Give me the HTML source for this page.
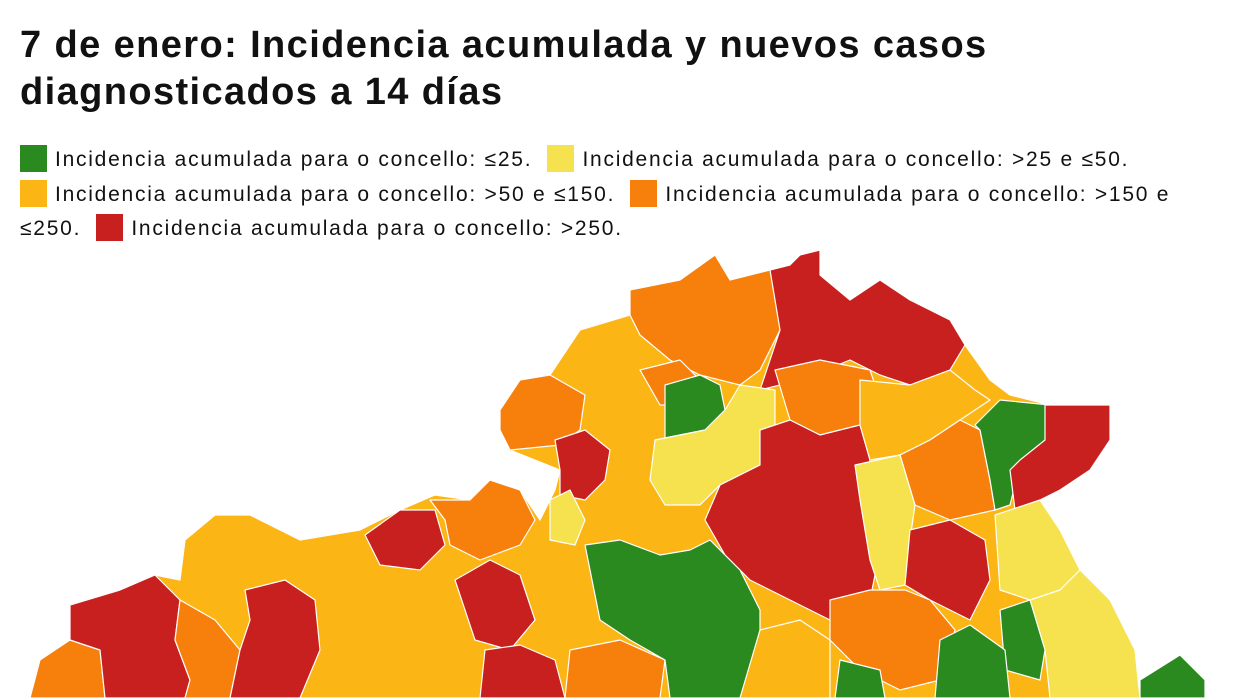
<!DOCTYPE html>
<html><head><meta charset="utf-8"><style>
html,body{margin:0;padding:0;background:#fff;width:1248px;height:698px;overflow:hidden;font-family:"Liberation Sans",Arial,sans-serif;color:#111}
h1{position:absolute;left:20px;top:22px;margin:0;font-size:38px;line-height:47px;font-weight:bold;letter-spacing:1.4px;white-space:nowrap}
.lg{position:absolute;left:20px;top:143px;width:1200px;font-size:21px;line-height:34.5px;letter-spacing:1.75px}
.sq{display:inline-block;width:27px;height:27px;vertical-align:-6px;margin-right:8px}
svg{position:absolute;left:0;top:0}
</style></head><body>
<h1>7 de enero: Incidencia acumulada y nuevos casos<br>diagnosticados a 14 días</h1>
<div class="lg"><span class="sq" style="background:#2a8a1f"></span>Incidencia acumulada para o concello: ≤25. &nbsp;<span class="sq" style="background:#f6e24e"></span>Incidencia acumulada para o concello: &gt;25 e ≤50.<br><span class="sq" style="background:#fbb515"></span>Incidencia acumulada para o concello: &gt;50 e ≤150. &nbsp;<span class="sq" style="background:#f77f0b"></span>Incidencia acumulada para o concello: &gt;150 e<br>≤250. &nbsp;<span class="sq" style="background:#c8201f"></span>Incidencia acumulada para o concello: &gt;250.</div>
<svg width="1248" height="698" viewBox="0 0 1248 698">
<g stroke="#fff" stroke-width="1.2" stroke-linejoin="round">
<polygon fill="#fbb515" points="30,698 40,660 70,640 70,605 120,590 155,575 180,580 185,540 215,515 250,515 300,540 360,530 400,510 435,495 470,500 490,480 520,490 540,520 555,490 560,470 510,450 500,410 520,380 550,375 580,330 630,315 630,290 680,280 715,255 730,280 770,270 790,265 800,255 820,250 820,275 850,300 880,280 910,300 950,320 965,345 990,380 1010,395 1050,405 1110,405 1110,440 1090,470 1060,490 1040,500 1060,530 1080,570 1110,600 1135,650 1140,698"/>
<polygon fill="#f77f0b" points="30,698 40,660 70,640 100,650 105,698"/>
<polygon fill="#c8201f" points="70,605 120,590 155,575 180,600 175,640 190,680 185,698 105,698 100,650 70,640"/>
<polygon fill="#f77f0b" points="180,600 215,620 240,650 230,698 185,698 190,680 175,640"/>
<polygon fill="#c8201f" points="245,590 285,580 315,600 320,650 300,698 230,698 240,650 250,620"/>
<polygon fill="#c8201f" points="365,535 400,510 435,510 445,545 420,570 380,565"/>
<polygon fill="#f77f0b" points="430,500 470,500 490,480 520,490 535,520 520,545 480,560 450,545 445,520"/>
<polygon fill="#c8201f" points="455,580 490,560 520,575 535,620 510,650 475,640"/>
<polygon fill="#c8201f" points="485,650 520,645 555,660 565,698 480,698"/>
<polygon fill="#f77f0b" points="570,650 620,640 665,660 660,698 565,698"/>
<polygon fill="#f77f0b" points="500,410 520,380 550,375 585,395 580,430 560,445 510,450 500,430"/>
<polygon fill="#c8201f" points="555,440 585,430 610,450 605,480 585,500 560,495 560,470"/>
<polygon fill="#f77f0b" points="630,290 680,280 715,255 730,280 770,270 790,290 780,330 760,370 740,385 700,375 670,360 640,335 630,315"/>
<polygon fill="#f77f0b" points="640,370 680,360 700,380 690,405 660,405"/>
<polygon fill="#c8201f" points="770,270 790,265 800,255 820,250 820,275 850,300 880,280 910,300 950,320 965,345 950,370 910,385 880,375 850,360 800,380 760,390 780,330"/>
<polygon fill="#2a8a1f" points="665,385 700,375 720,385 725,410 705,430 665,438"/>
<polygon fill="#f6e24e" points="655,440 705,430 725,410 740,385 775,390 775,430 760,465 720,485 700,505 665,505 650,480"/>
<polygon fill="#f77f0b" points="775,370 820,360 870,370 880,400 860,425 820,435 790,420"/>
<polygon fill="#c8201f" points="760,430 790,420 820,435 860,425 870,460 860,500 880,550 870,600 830,620 790,600 750,580 725,555 705,520 720,485 760,465"/>
<polygon fill="#fbb515" points="860,380 910,385 950,370 975,390 990,400 960,420 930,440 900,455 870,460 860,425"/>
<polygon fill="#f77f0b" points="900,455 930,440 960,420 980,430 990,480 995,510 950,520 915,505"/>
<polygon fill="#2a8a1f" points="975,425 1000,400 1050,405 1045,440 1020,465 1010,505 995,510 990,480 980,430"/>
<polygon fill="#c8201f" points="1045,405 1110,405 1110,440 1090,470 1060,490 1040,500 1015,510 1010,470 1020,460 1045,440"/>
<polygon fill="#f6e24e" points="855,465 900,455 915,505 910,540 905,585 880,590 870,560 860,500"/>
<polygon fill="#c8201f" points="910,530 950,520 985,540 990,580 970,620 930,600 905,585"/>
<polygon fill="#f6e24e" points="995,515 1040,500 1060,530 1080,570 1060,590 1030,600 1000,590"/>
<polygon fill="#f6e24e" points="1030,600 1060,590 1080,570 1110,600 1135,650 1140,698 1050,698 1045,650"/>
<polygon fill="#2a8a1f" points="1000,610 1030,600 1045,650 1040,680 1005,670"/>
<polygon fill="#f77f0b" points="830,600 870,590 905,590 930,600 955,630 940,680 900,690 860,670 830,640"/>
<polygon fill="#2a8a1f" points="940,640 970,625 1005,650 1010,698 935,698"/>
<polygon fill="#2a8a1f" points="585,545 620,540 660,555 690,550 710,540 740,570 760,610 760,650 740,698 670,698 665,660 630,640 600,620"/>
<polygon fill="#fbb515" points="760,630 800,620 830,640 830,698 740,698"/>
<polygon fill="#2a8a1f" points="840,660 880,670 885,698 835,698"/>
<polygon fill="#2a8a1f" points="1140,680 1180,655 1205,680 1205,698 1140,698"/>
<polygon fill="#f6e24e" points="550,500 570,490 585,520 575,545 550,540"/>
</g>
</svg>
</body></html>
